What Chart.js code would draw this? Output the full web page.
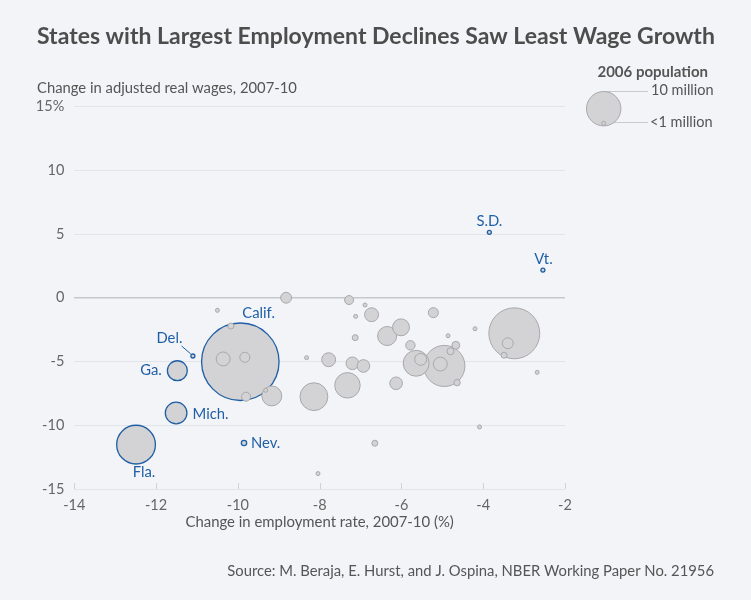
<!DOCTYPE html>
<html><head><meta charset="utf-8">
<script src="https://cdn.jsdelivr.net/npm/chart.js@4.4.1/dist/chart.umd.min.js"></script>
<style>
html,body{margin:0;padding:0;background:#f3f4f8;}
#wrap{width:751px;height:600px;position:relative;}
canvas{display:block;}
</style></head><body>
<div id="wrap"><canvas id="c" width="751" height="600"></canvas></div>
<script>
// ---------------- DATA ----------------
const chartTitle = 'States with Largest Employment Declines Saw Least Wage Growth';
const yTitle = 'Change in adjusted real wages, 2007-10';
const xTitle = 'Change in employment rate, 2007-10 (%)';
const sourceText = 'Source: M. Beraja, E. Hurst, and J. Ospina, NBER Working Paper No. 21956';
const legendTitle = '2006 population';
const legendLabels = ['10 million', '<1 million'];

const xTicks = [-14, -12, -10, -8, -6, -4, -2];
const yTicks = [-15, -10, -5, 0, 5, 10, 15];

// highlighted states
const highlightNames = ['Calif.', 'Fla.', 'Ga.', 'Mich.', 'Del.', 'Nev.', 'S.D.', 'Vt.'];
const highlightEmp   = [-9.94, -12.49, -11.48, -11.51, -11.10, -9.85, -3.85, -2.54];
const highlightWage  = [-5.02, -11.52, -5.72, -9.04, -4.57, -11.39, 5.13, 2.17];
const highlightPop   = [36.2, 18.1, 9.3, 10.1, 0.85, 2.5, 0.78, 0.62];

// other states
const otherEmp  = [-8.82, -10.50, -10.17, -10.36, -9.83, -9.80, -9.32, -9.17, -8.32, -8.14,
                   -7.28, -6.89, -6.73, -7.12, -7.13, -7.78, -7.20, -6.93, -7.32, -5.22,
                   -6.35, -6.01, -4.86, -4.20, -3.24, -3.40, -3.49, -2.68, -5.78, -5.64,
                   -5.53, -4.95, -5.05, -4.67, -4.80, -4.64, -6.13, -4.09, -6.65, -8.04];
const otherWage = [0.00, -0.99, -2.22, -4.80, -4.67, -7.76, -7.26, -7.70, -4.70, -7.76,
                   -0.18, -0.57, -1.33, -1.46, -3.13, -4.86, -5.14, -5.35, -6.87, -1.17,
                   -3.00, -2.32, -2.98, -2.43, -2.79, -3.57, -4.51, -5.85, -3.73, -5.14,
                   -4.83, -5.35, -5.20, -3.73, -4.20, -6.66, -6.71, -10.13, -11.41, -13.79];
const otherPop  = [5.1, 1.0, 2.8, 6.5, 4.7, 4.2, 1.0, 9.3, 1.0, 13.0,
                   4.2, 1.0, 6.5, 1.0, 2.8, 6.5, 5.9, 5.9, 11.9, 4.7,
                   8.9, 7.9, 1.0, 1.0, 23.8, 5.1, 2.8, 1.0, 4.4, 12.1,
                   5.6, 19.2, 6.5, 3.7, 3.3, 3.0, 5.9, 1.0, 2.8, 1.0];

// ---------------- STYLE ----------------
const FONT = 'Lato, "Noto Sans", sans-serif';
const BG = '#f3f4f8';
const TEXT = '#555555';
const BLUE = '#1f5fa6';
const FILL = '#d3d2d4';
const GRAYB = '#a9a9ab';
const radiusOf = p => Math.max(2, p * 1.07);

const labelStyle = {
  'Calif.': {dx: 2, dy: -49, align: 'left'},
  'Fla.':   {dx: 8, dy: 27.5, align: 'center'},
  'Ga.':    {dx: -15.5, dy: 0, align: 'right'},
  'Mich.':  {dx: 16.5, dy: 1, align: 'left'},
  'Del.':   {dx: -10.5, dy: -17.7, align: 'right', leader: [-11.3, -10, -2.2, -2.2]},
  'Nev.':   {dx: 7, dy: 0, align: 'left'},
  'S.D.':   {dx: 0, dy: -10.8, align: 'center'},
  'Vt.':    {dx: 0.5, dy: -11, align: 'center'}
};

// build points (big first so small ones drawn on top)
const points = [];
highlightNames.forEach((n, i) => points.push({x: highlightEmp[i], y: highlightWage[i], r: radiusOf(highlightPop[i]), hl: true, name: n}));
otherEmp.forEach((v, i) => points.push({x: v, y: otherWage[i], r: radiusOf(otherPop[i]), hl: false}));
points.sort((a, b) => b.r - a.r);

const decor = {
  id: 'decor',
  beforeDraw(chart) {
    const ctx = chart.ctx;
    ctx.save();
    ctx.fillStyle = BG;
    ctx.fillRect(0, 0, chart.width, chart.height);
    ctx.restore();
  },
  afterDatasetsDraw(chart) {
    const ctx = chart.ctx;
    const xs = chart.scales.x, ys = chart.scales.y;
    ctx.save();
    // x tick marks pointing up
    ctx.strokeStyle = '#cfd1d6';
    ctx.lineWidth = 1;
    xTicks.forEach(v => {
      const px = Math.round(xs.getPixelForValue(v)) + 0.5;
      ctx.beginPath();
      ctx.moveTo(px, chart.chartArea.bottom - 6);
      ctx.lineTo(px, chart.chartArea.bottom);
      ctx.stroke();
    });
    // state labels
    ctx.font = '14.8px ' + FONT;
    ctx.fillStyle = BLUE;
    ctx.textBaseline = 'middle';
    highlightNames.forEach((n, i) => {
      const st = labelStyle[n];
      const px = xs.getPixelForValue(highlightEmp[i]);
      const py = ys.getPixelForValue(highlightWage[i]);
      ctx.textAlign = st.align;
      ctx.fillText(n, px + st.dx, py + st.dy);
      if (st.leader) {
        ctx.strokeStyle = BLUE;
        ctx.lineWidth = 1;
        ctx.beginPath();
        ctx.moveTo(px + st.leader[0], py + st.leader[1]);
        ctx.lineTo(px + st.leader[2], py + st.leader[3]);
        ctx.stroke();
      }
    });
    ctx.restore();
  },
  afterDraw(chart) {
    const ctx = chart.ctx;
    ctx.save();
    ctx.textBaseline = 'middle';
    // title
    ctx.fillStyle = '#4d4d4d';
    ctx.textAlign = 'left';
    ctx.font = 'bold 23px ' + FONT;
    ctx.fillText(chartTitle, 37, 37);
    // y title
    ctx.fillStyle = TEXT;
    ctx.font = '14.8px ' + FONT;
    ctx.fillText(yTitle, 37, 88);
    // legend
    ctx.textAlign = 'right';
    ctx.font = 'bold 15px ' + FONT;
    ctx.fillText(legendTitle, 708, 72);
    ctx.textAlign = 'left';
    ctx.font = '14.5px ' + FONT;
    ctx.fillText(legendLabels[0], 651, 90.5);
    ctx.fillText(legendLabels[1], 650, 122.5);
    ctx.strokeStyle = '#c9cacd';
    ctx.lineWidth = 1;
    ctx.beginPath();
    ctx.moveTo(604, 91.5); ctx.lineTo(648, 91.5);
    ctx.moveTo(606, 122.5); ctx.lineTo(648, 122.5);
    ctx.stroke();
    ctx.fillStyle = FILL; ctx.strokeStyle = GRAYB;
    ctx.beginPath(); ctx.arc(603.7, 108.7, 17.2, 0, Math.PI * 2); ctx.fill(); ctx.stroke();
    ctx.beginPath(); ctx.arc(603.7, 123.3, 2, 0, Math.PI * 2); ctx.fill(); ctx.stroke();
    // source
    ctx.fillStyle = TEXT;
    ctx.textAlign = 'right';
    ctx.font = '14.8px ' + FONT;
    ctx.fillText(sourceText, 714, 571);
    ctx.restore();
  }
};

new Chart(document.getElementById('c'), {
  type: 'bubble',
  data: {
    datasets: [{
      data: points,
      backgroundColor: FILL,
      borderColor: c => (c.raw && c.raw.hl) ? BLUE : GRAYB,
      borderWidth: c => (c.raw && c.raw.hl) ? 1.3 : 1,
      hoverRadius: 0,
      clip: false
    }]
  },
  options: {
    responsive: false,
    animation: false,
    events: [],
    layout: {padding: {left: 0, right: 186, top: 106.5, bottom: 67}},
    plugins: {legend: {display: false}, tooltip: {enabled: false}},
    scales: {
      x: {
        type: 'linear', min: -14, max: -2,
        afterBuildTicks: s => { s.ticks = xTicks.map(v => ({value: v})); },
        afterFit: s => { s.height = 44; },
        grid: {display: true, drawOnChartArea: false, drawTicks: false},
        border: {display: false},
        ticks: {font: {family: FONT, size: 14.5}, color: '#666', padding: 8, maxRotation: 0},
        title: {display: true, text: xTitle, font: {family: FONT, size: 14.9}, color: TEXT, padding: {top: 0, bottom: 2}}
      },
      y: {
        type: 'linear', min: -15, max: 15,
        afterBuildTicks: s => { s.ticks = yTicks.map(v => ({value: v})); },
        afterFit: s => { s.width = 74.3; },
        grid: {
          color: c => c.tick && c.tick.value === 0 ? '#c6c7cb' : '#e2e4ea',
          lineWidth: c => c.tick && c.tick.value === 0 ? 1.6 : 1,
          drawTicks: false
        },
        border: {display: false},
        ticks: {
          font: {family: FONT, size: 14.5}, color: '#666', padding: 10,
          callback: v => v === 15 ? '15%' : String(v)
        }
      }
    }
  },
  plugins: [decor]
});
</script>
</body></html>
